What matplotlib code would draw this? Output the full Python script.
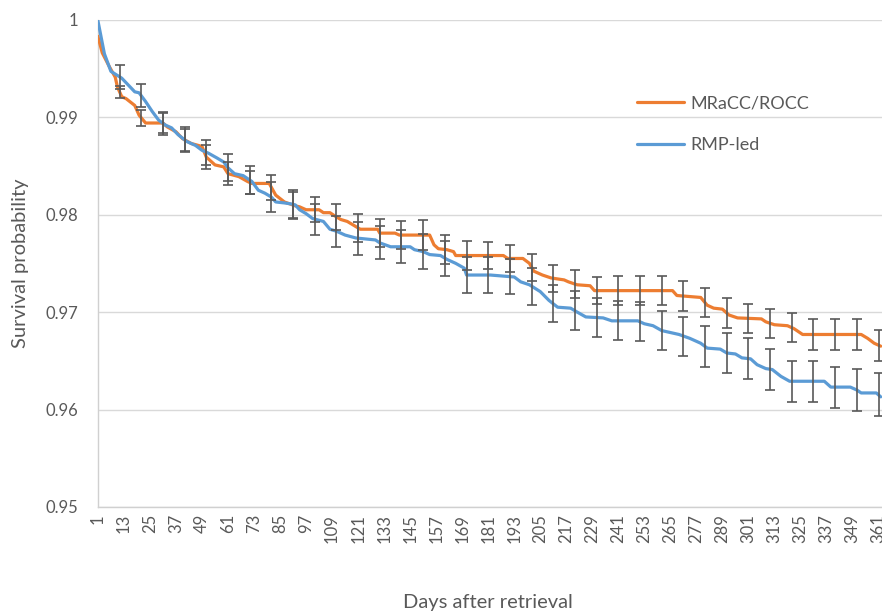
import matplotlib
matplotlib.use("Agg")
import matplotlib.pyplot as plt
import numpy as np

plt.rcParams['font.family'] = ['Lato', 'DejaVu Sans']

# MRaCC/ROCC curve (day, survival)
mracc_days = [1, 3, 6, 9, 10, 12, 14, 18, 20, 23, 31, 33, 37, 40, 44, 49, 51, 55, 59, 61,
              66, 70, 72, 80, 83, 87, 92, 94, 97, 103, 105, 108, 110, 113, 116, 119, 122,
              130, 131, 138, 140, 154, 156, 158, 162, 165, 166, 188, 190, 197, 200, 202,
              206, 210, 216, 218, 222, 228, 230, 266, 268, 279, 282, 285, 289, 292, 296,
              307, 309, 313, 319, 322, 326, 353, 356, 359, 362]
mracc_surv = [0.9983, 0.9966, 0.9953, 0.9941, 0.9931, 0.9921, 0.9919, 0.9912, 0.9902, 0.9894,
              0.9894, 0.9890, 0.9885, 0.9878, 0.9873, 0.9870, 0.9859, 0.9851, 0.9849, 0.9842,
              0.9839, 0.9834, 0.9832, 0.9832, 0.9820, 0.9813, 0.9809, 0.9808, 0.9805, 0.9805,
              0.9802, 0.9802, 0.9799, 0.9795, 0.9793, 0.9789, 0.9785, 0.9785, 0.9781, 0.9781,
              0.9779, 0.9779, 0.9769, 0.9765, 0.9764, 0.9762, 0.9758, 0.9758, 0.9755, 0.9755,
              0.9750, 0.9742, 0.9738, 0.9735, 0.9733, 0.9731, 0.9728, 0.9727, 0.9722, 0.9722,
              0.9717, 0.9715, 0.9707, 0.9704, 0.9703, 0.9697, 0.9694, 0.9693, 0.9690, 0.9687,
              0.9686, 0.9683, 0.9677, 0.9677, 0.9673, 0.9668, 0.9665]

# RMP-led curve
rmp_days = [1, 4, 7, 12, 15, 18, 20, 23, 26, 29, 32, 35, 38, 42, 46, 49, 52, 56, 59, 61,
            64, 68, 72, 75, 78, 81, 83, 87, 90, 92, 94, 97, 100, 105, 108, 111, 115, 120,
            129, 131, 136, 145, 147, 151, 154, 159, 162, 166, 170, 171, 182, 193, 196, 200,
            205, 209, 213, 219, 222, 226, 234, 238, 250, 253, 257, 261, 265, 269, 274, 279,
            282, 288, 291, 295, 298, 302, 305, 309, 312, 316, 320, 336, 339, 348, 351, 353,
            360, 362]
rmp_surv = [0.9999, 0.9965, 0.9947, 0.9940, 0.9933, 0.9926, 0.9925, 0.9916, 0.9906, 0.9897,
            0.9892, 0.9889, 0.9882, 0.9875, 0.9871, 0.9866, 0.9863, 0.9858, 0.9854, 0.9848,
            0.9842, 0.9840, 0.9834, 0.9825, 0.9822, 0.9818, 0.9813, 0.9812, 0.9811, 0.9810,
            0.9805, 0.9801, 0.9796, 0.9793, 0.9785, 0.9783, 0.9779, 0.9776, 0.9774, 0.9771,
            0.9767, 0.9767, 0.9764, 0.9762, 0.9759, 0.9758, 0.9754, 0.9750, 0.9745, 0.9738,
            0.9738, 0.9736, 0.9731, 0.9728, 0.9721, 0.9712, 0.9705, 0.9704, 0.9700, 0.9695,
            0.9694, 0.9691, 0.9691, 0.9688, 0.9686, 0.9681, 0.9679, 0.9677, 0.9673, 0.9668,
            0.9663, 0.9662, 0.9658, 0.9657, 0.9653, 0.9652, 0.9646, 0.9642, 0.9641, 0.9634,
            0.9629, 0.9629, 0.9623, 0.9623, 0.9620, 0.9617, 0.9617, 0.9613]

# error bars every 10 days, half widths
err_days = list(range(11, 362, 10))
mracc_err = [0.0006, 0.0008, 0.0010, 0.0011, 0.0012, 0.0012, 0.0012, 0.0013, 0.0013, 0.0013,
             0.0013, 0.0014, 0.0014, 0.0014, 0.0015, 0.0015, 0.0015, 0.0014, 0.0014, 0.0014,
             0.0014, 0.0014, 0.0014, 0.0015, 0.0015, 0.0015, 0.0015, 0.0015, 0.0015, 0.0015,
             0.0015, 0.0015, 0.0016, 0.0016, 0.0016, 0.0016]
rmp_err = [0.0012, 0.0012, 0.0012, 0.0013, 0.0013, 0.0014, 0.0014, 0.0015, 0.0015, 0.0016,
           0.0016, 0.0017, 0.0017, 0.0017, 0.0018, 0.0018, 0.0018, 0.0018, 0.0018, 0.0019,
           0.0019, 0.0020, 0.0020, 0.0020, 0.0020, 0.0020, 0.0020, 0.0021, 0.0021, 0.0021,
           0.0021, 0.0021, 0.0021, 0.0021, 0.0022, 0.0022]

xticks = list(range(1, 362, 12))
yticks = [0.95, 0.96, 0.97, 0.98, 0.99, 1.0]

orange = '#ED7D31'
blue = '#5B9BD5'
grey_txt = '#595959'

fig = plt.figure(figsize=(8.82, 6.16), dpi=100)
ax = fig.add_axes([0.111, 0.177, 0.889, 0.791])

ax.plot(mracc_days, mracc_surv, color=orange, lw=2.3, label='MRaCC/ROCC', zorder=3, solid_capstyle='round')
ax.plot(rmp_days, rmp_surv, color=blue, lw=2.3, label='RMP-led', zorder=4, solid_capstyle='round')

# error bars sit on the curve value at that day
def value_at(days, surv, d):
    return np.interp(d, days, surv)

for days, surv, err in [(mracc_days, mracc_surv, mracc_err), (rmp_days, rmp_surv, rmp_err)]:
    centers = [value_at(days, surv, d) for d in err_days]
    ax.errorbar(err_days, centers, yerr=err, fmt='none', ecolor=grey_txt,
                elinewidth=1.2, capsize=3.8, capthick=1.2, zorder=5)

ax.set_xlim(1, 362.6)
ax.set_ylim(0.95, 1.0)
ax.set_yticks(yticks)
ax.set_yticklabels([f'{v:g}' for v in yticks])
ax.set_xticks(xticks)
ax.set_xticklabels([str(v) for v in xticks], rotation=90)
ax.tick_params(axis='both', length=0, colors=grey_txt, labelsize=12)
ax.tick_params(axis='y', pad=14)
ax.tick_params(axis='x', pad=5)

ax.grid(axis='y', color='#D9D9D9', lw=1.0)
ax.set_axisbelow(True)
for s in ['top', 'right']:
    ax.spines[s].set_visible(False)
for s in ['left', 'bottom']:
    ax.spines[s].set_color('#D0D0D0')
    ax.spines[s].set_linewidth(1.0)

ax.set_ylabel('Survival probability', fontsize=14.5, color=grey_txt, labelpad=12)
fig.text(0.553, 0.013, 'Days after retrieval', fontsize=14.5, color=grey_txt, ha='center')

leg = ax.legend(loc='upper left', bbox_to_anchor=(0.704, 0.872), frameon=False,
                fontsize=13, labelspacing=1.45, handlelength=2.6, handletextpad=0.35,
                bbox_transform=fig.transFigure)
for t in leg.get_texts():
    t.set_color(grey_txt)

fig.savefig('out.png', dpi=100)
